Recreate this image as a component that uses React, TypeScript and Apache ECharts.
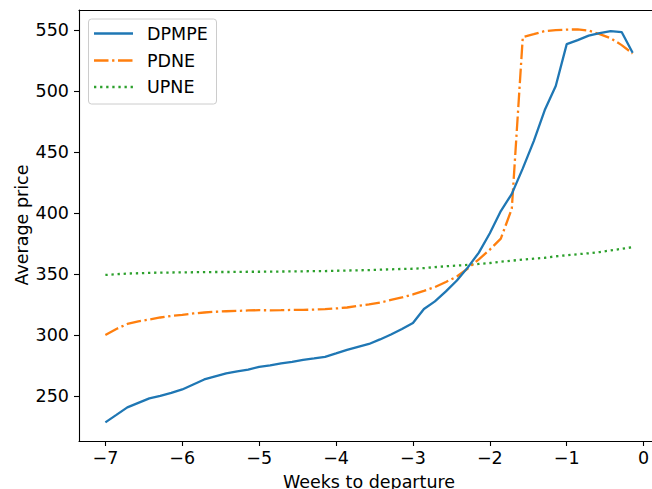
import React, { useEffect, useRef } from "react";
import * as echarts from "echarts";

// days to departure (x = days / 7 weeks)
const days = [
  -49, -48, -47, -46, -45, -44, -43, -42, -41, -40, -39, -38, -37, -36, -35, -34, -33,
  -32, -31, -30, -29, -28, -27, -26, -25, -24, -23, -22, -21, -20, -19, -18, -17, -16,
  -15, -14, -13, -12, -11, -10, -9, -8, -7, -6, -5, -4, -3, -2, -1,
];

const dpmpe = [
  228.3, 234.4, 240.6, 244.3, 248.0, 250.0, 252.5, 255.3, 259.4, 263.5, 266.0, 268.4,
  270.1, 271.5, 273.8, 275.0, 276.6, 277.9, 279.5, 280.7, 282.0, 284.8, 287.7, 290.2,
  292.6, 296.3, 300.4, 304.9, 309.8, 321.3, 327.5, 335.7, 344.6, 355.4, 367.5, 383.4,
  401.6, 415.7, 436.6, 459.0, 484.4, 504.1, 538.5, 541.8, 545.5, 547.5, 549.2, 548.4,
  531.4,
];

const pdne = [
  300.0, 304.9, 309.0, 311.1, 312.7, 314.3, 315.6, 316.4, 317.6, 318.4, 319.0, 319.4,
  319.7, 320.1, 320.3, 320.2, 320.3, 320.5, 320.5, 320.8, 321.1, 321.7, 322.5, 323.8,
  325.0, 326.5, 328.7, 330.7, 333.2, 336.1, 339.3, 343.4, 347.9, 354.5, 362.0, 370.0,
  379.0, 403.5, 544.3, 546.7, 549.2, 550.0, 550.4, 550.6, 549.6, 546.7, 543.4, 537.7,
  530.8,
];

const upne = [
  349.2, 349.8, 350.3, 350.6, 350.9, 351.1, 351.2, 351.3, 351.4, 351.5, 351.6, 351.6,
  351.7, 351.8, 351.8, 351.9, 352.0, 352.1, 352.2, 352.3, 352.4, 352.6, 352.8, 353.0,
  353.2, 353.5, 353.8, 354.1, 354.3, 354.8, 355.6, 356.3, 356.9, 357.4, 358.2, 359.0,
  360.0, 360.9, 361.8, 362.6, 363.3, 364.5, 365.3, 366.2, 367.0, 368.0, 369.3, 370.6,
  372.0,
];

const xTicks = [-7, -6, -5, -4, -3, -2, -1, 0];
const yTicks = [250, 300, 350, 400, 450, 500, 550];

const seriesNames = ["DPMPE", "PDNE", "UPNE"];
const colors = ["#1f77b4", "#ff7f0e", "#2ca02c"];

const FONT = "DejaVu Sans";
const FS = 17.5;
const LW = 2.3;
const dashes: any[] = ["solid", [14.5, 3.6, 2.3, 3.6], [2.3, 3.8]];

export default function App() {
  const ref = useRef<HTMLDivElement>(null);
  useEffect(() => {
    const chart = echarts.init(ref.current!, null, { renderer: "svg" });
    const weeks = days.map((d) => d / 7);
    const all = [dpmpe, pdne, upne];
    const fmt = (v: number) => String(v).replace("-", "\u2212");
    const legendRows = [33.5, 60.5, 87];
    chart.setOption({
      animation: false,
      backgroundColor: "#ffffff",
      grid: {
        left: 79,
        top: 10,
        width: 580,
        height: 431,
        show: false,
        outerBoundsMode: "none",
        containLabel: false,
      },
      xAxis: [
        {
          type: "value",
          min: -7.343,
          max: 0.2,
          splitLine: { show: false },
          axisLine: { show: true, onZero: false, lineStyle: { color: "#000", width: 1.1 } },
          axisTick: {
            show: true,
            length: 5,
            lineStyle: { color: "#000", width: 1.1 },
            customValues: xTicks,
          },
          axisLabel: {
            customValues: xTicks,
            formatter: fmt,
            fontFamily: FONT,
            fontSize: FS,
            color: "#000",
            margin: 8,
          },
        },
        {
          type: "value",
          position: "top",
          min: -7.343,
          max: 0.2,
          splitLine: { show: false },
          axisLine: { show: true, onZero: false, lineStyle: { color: "#000", width: 1.1 } },
          axisTick: { show: false },
          axisLabel: { show: false },
        },
      ],
      yAxis: {
        type: "value",
        min: 213,
        max: 566.5,
        splitLine: { show: false },
        axisLine: { show: true, onZero: false, lineStyle: { color: "#000", width: 1.1 } },
        axisTick: {
          show: true,
          length: 5,
          lineStyle: { color: "#000", width: 1.1 },
          customValues: yTicks,
        },
        axisLabel: {
          customValues: yTicks,
          fontFamily: FONT,
          fontSize: FS,
          color: "#000",
          margin: 10,
        },
      },
      series: seriesNames.map((name, k) => ({
        name,
        type: "line",
        showSymbol: false,
        symbol: "none",
        data: weeks.map((w, i) => [w, all[k][i]]),
        lineStyle: { color: colors[k], width: LW, type: dashes[k], cap: "butt" },
        itemStyle: { color: colors[k] },
        z: 3 - k,
      })),
      graphic: [
        {
          type: "text",
          x: 369,
          y: 482,
          style: {
            text: "Weeks to departure",
            fontFamily: FONT,
            fontSize: FS,
            fill: "#000",
            align: "center",
            verticalAlign: "middle",
          },
        },
        {
          type: "text",
          x: 22,
          y: 225,
          rotation: Math.PI / 2,
          style: {
            text: "Average price",
            fontFamily: FONT,
            fontSize: FS,
            fill: "#000",
            align: "center",
            verticalAlign: "middle",
          },
        },
        {
          type: "rect",
          z: 100,
          shape: { x: 88.5, y: 19, width: 128, height: 85, r: 3 },
          style: { fill: "rgba(255,255,255,0.8)", stroke: "#cccccc", lineWidth: 1 },
        },
        ...seriesNames.flatMap((name, k) => [
          {
            type: "line",
            z: 101,
            shape: { x1: 94, y1: legendRows[k], x2: 133, y2: legendRows[k] },
            style: {
              stroke: colors[k],
              lineWidth: LW,
              lineDash: k === 0 ? null : dashes[k],
              lineCap: "butt",
            },
          },
          {
            type: "text",
            z: 101,
            x: 147,
            y: legendRows[k],
            style: {
              text: name,
              fontFamily: FONT,
              fontSize: FS,
              fill: "#000",
              align: "left",
              verticalAlign: "middle",
            },
          },
        ]),
      ],
    });
    return () => chart.dispose();
  }, []);
  return (
    <div
      ref={ref}
      style={{ position: "fixed", left: 0, top: 0, width: 652, height: 489, background: "#fff" }}
    />
  );
}
